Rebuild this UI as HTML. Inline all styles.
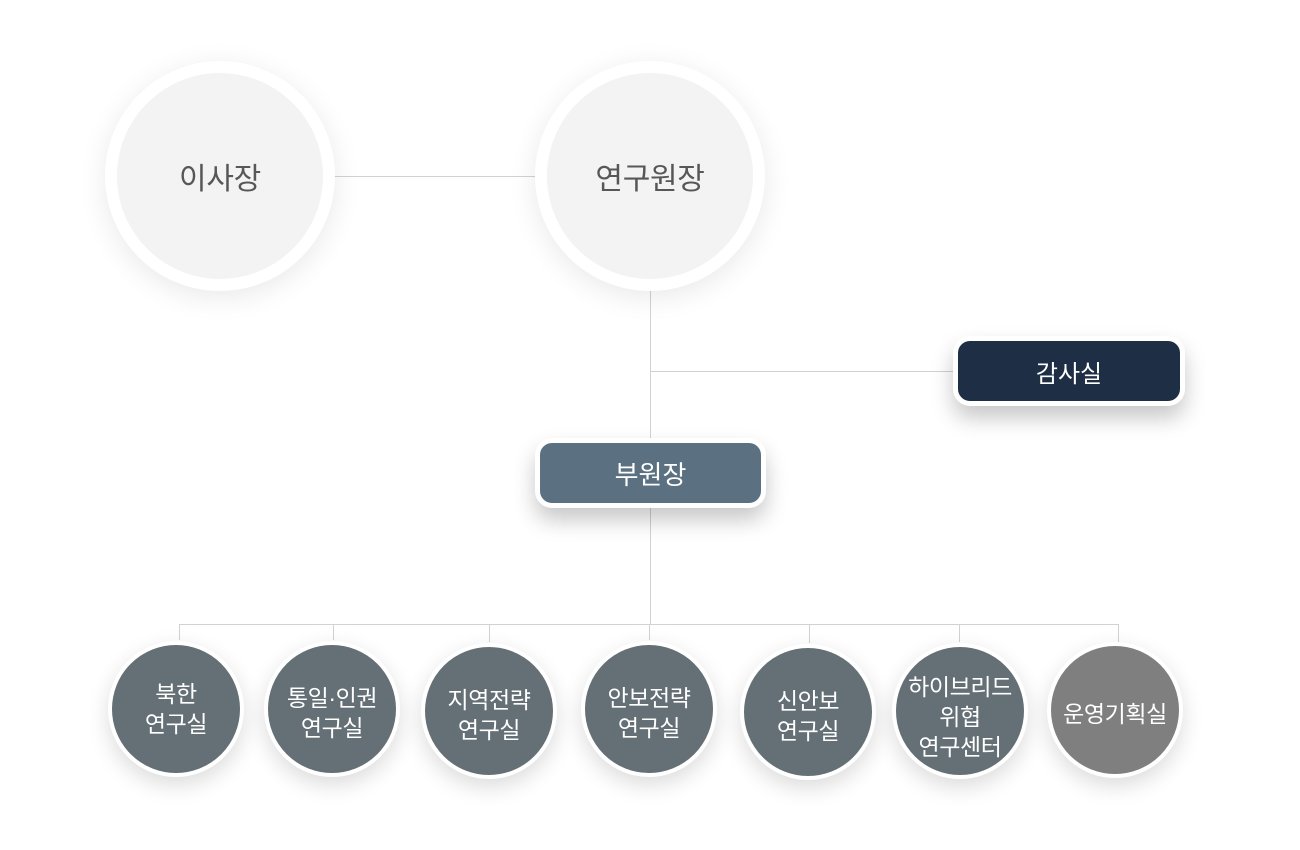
<!DOCTYPE html>
<html>
<head>
<meta charset="utf-8">
<style>
  html,body{margin:0;padding:0;background:#fff;}
  body{width:1300px;height:850px;position:relative;overflow:hidden;
    font-family:"Liberation Sans","Noto Sans CJK KR","NanumGothic",sans-serif;}
  .ln{position:absolute;background:#d2d2d2;}
  .big{position:absolute;width:230px;height:230px;border-radius:50%;box-sizing:border-box;
    border:12px solid #fff;background:#f3f3f3;box-shadow:0 6px 28px rgba(0,0,0,0.09);
    display:flex;align-items:center;justify-content:center;color:#575757;font-size:30px;letter-spacing:-0.3px;}
  .box{position:absolute;box-sizing:border-box;border:5px solid #fff;border-radius:17px;
    display:flex;align-items:center;justify-content:center;color:#fff;
    box-shadow:0 12px 22px rgba(0,0,0,0.22);}
  .c{position:absolute;width:136px;height:136px;border-radius:50%;box-sizing:border-box;
    border:4px solid #fff;background:#646f76;box-shadow:0 8px 22px rgba(0,0,0,0.14);
    display:flex;align-items:center;justify-content:center;text-align:center;color:#fff;
    font-size:23px;line-height:30px;letter-spacing:-0.4px;white-space:nowrap;}
  .c span{display:block;transform:translateY(4px);}
</style>
</head>
<body>
  <!-- connectors -->
  <div class="ln" style="left:335px;top:176px;width:200px;height:1px;"></div>
  <div class="ln" style="left:650px;top:290px;width:1px;height:150px;"></div>
  <div class="ln" style="left:650px;top:371px;width:304px;height:1px;"></div>
  <div class="ln" style="left:650px;top:506px;width:1px;height:119px;"></div>
  <div class="ln" style="left:179px;top:624px;width:940px;height:1px;"></div>
  <div class="ln" style="left:179px;top:624px;width:1px;height:16px;"></div>
  <div class="ln" style="left:333px;top:624px;width:1px;height:16px;"></div>
  <div class="ln" style="left:489px;top:624px;width:1px;height:18px;"></div>
  <div class="ln" style="left:649px;top:624px;width:1px;height:16px;"></div>
  <div class="ln" style="left:809px;top:624px;width:1px;height:19px;"></div>
  <div class="ln" style="left:959px;top:624px;width:1px;height:18px;"></div>
  <div class="ln" style="left:1118px;top:624px;width:1px;height:18px;"></div>

  <!-- top circles -->
  <div class="big" style="left:105px;top:61px;">이사장</div>
  <div class="big" style="left:535px;top:61px;">연구원장</div>

  <!-- boxes -->
  <div class="box" style="left:953px;top:336px;width:232px;height:70px;background:#1e2e45;font-size:24px;">감사실</div>
  <div class="box" style="left:535px;top:438px;width:231px;height:70px;background:#5b7080;font-size:26px;">부원장</div>

  <!-- bottom circles -->
  <div class="c" style="left:108px;top:641px;"><span style="transform:translateY(0)">북한<br>연구실</span></div>
  <div class="c" style="left:264px;top:641px;"><span>통일·인권<br>연구실</span></div>
  <div class="c" style="left:421px;top:643px;"><span>지역전략<br>연구실</span></div>
  <div class="c" style="left:581px;top:641px;"><span>안보전략<br>연구실</span></div>
  <div class="c" style="left:740px;top:644px;"><span>신안보<br>연구실</span></div>
  <div class="c" style="left:892px;top:643px;"><span style="transform:translateY(6px)">하이브리드<br>위협<br>연구센터</span></div>
  <div class="c" style="left:1047px;top:642px;background:#7f7f7f;"><span>운영기획실</span></div>
</body>
</html>
